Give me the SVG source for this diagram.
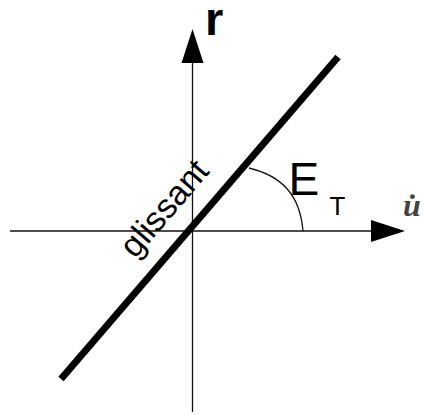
<svg xmlns="http://www.w3.org/2000/svg" width="424" height="415" viewBox="0 0 424 415">
<style>
.axis{stroke:#111;stroke-width:1.3;fill:none}
.head{fill:#000}
.sans{font-family:"Liberation Sans",Arial,sans-serif;fill:#000}
</style>
<rect width="424" height="415" fill="#fff"/>
<g id="connectors">
<line class="axis" x1="10" y1="231" x2="373" y2="231"/>
<polygon class="head" points="405,231 371,220 371,242"/>
<line class="axis" x1="192.5" y1="412" x2="192.5" y2="61"/>
<polygon class="head" points="192.5,29 181.5,63 203.5,63"/>
<path class="axis" d="M249,168 C282,176 300,195 303,231"/>
</g>
<g id="slide-line">
<line x1="61" y1="379" x2="338" y2="57" stroke="#000" stroke-width="7"/>
<text class="sans" font-size="34" text-anchor="middle" transform="translate(172.7,215.8) rotate(-49.3)">glissant</text>
</g>
<g id="label-r"><text class="sans" font-size="47" font-weight="bold" x="205" y="35">r</text></g>
<g id="label-E"><text class="sans" font-size="46" x="288.5" y="195">E</text><text class="sans" font-size="26" x="329.5" y="215">T</text></g>
<g id="label-u"><text font-family="Liberation Serif,serif" font-size="32" font-weight="bold" font-style="italic" fill="#444" x="403" y="216">u̇</text></g>
</svg>
